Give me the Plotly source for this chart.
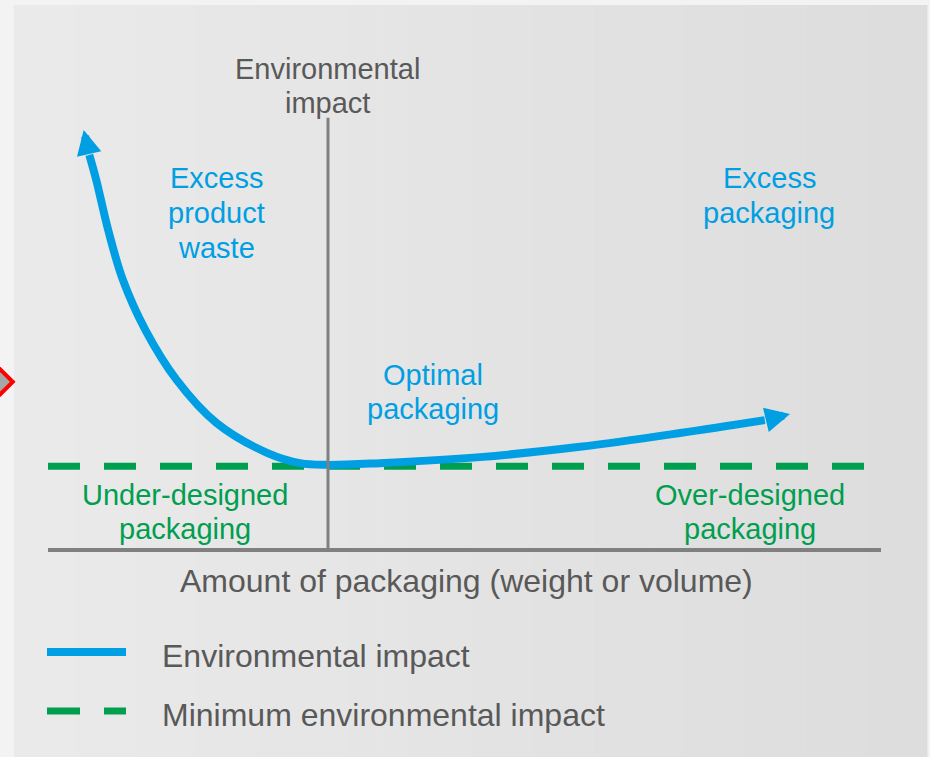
import plotly.graph_objects as go

# ---------------- data (conceptual units) ----------------
# Environmental impact curve: first and last points are the arrow tips
curve_x = [-3.49, -3.41, -3.31, -3.14, -2.93, -2.61, -2.16, -1.59, -0.87, -0.40, -0.01, 0.74, 2.17, 3.60, 5.03, 6.24, 6.60]
curve_y = [9.77, 9.19, 8.60, 7.44, 6.28, 5.12, 3.95, 2.95, 2.26, 2.02, 1.98, 2.02, 2.16, 2.40, 2.72, 3.02, 3.16]

# Minimum environmental impact level and its extent
min_level = 1.95
min_x = [-4.0, 7.66]

# Axes extents
x_axis_extent = [-4.0, 7.9]
y_axis_extent = [0.0, 10.05]

# slide artefact marker (red diamond at the left edge)
artefact_x = [-4.68]
artefact_y = [3.91]

# Texts
y_axis_title = ["Environmental", "impact"]
x_axis_title = "Amount of packaging (weight or volume)"
label_waste = ["Excess", "product", "waste"]
label_excess = ["Excess", "packaging"]
label_optimal = ["Optimal", "packaging"]
label_under = ["Under-designed", "packaging"]
label_over = ["Over-designed", "packaging"]
legend_labels = ["Environmental impact", "Minimum environmental impact"]

# ---------------- styling ----------------
W, H = 930, 757
BLUE = "#009fe3"
GREEN = "#009e4f"
AXIS = "#808080"
TEXT = "#595959"
FONT = "Liberation Sans, Arial, sans-serif"

# pixel mapping of the data space (plot area covers the whole figure)
X0_PX, XS = 328, 70.0
Y0_PX, YS = 550, 43.0
x_range = [(0 - X0_PX) / XS, (W - X0_PX) / XS]
y_range = [(Y0_PX - H) / YS, Y0_PX / YS]


def px(x):
    return x / W


def py(y):
    return 1 - y / H


fig = go.Figure()

# minimum impact dashed line
fig.add_trace(go.Scatter(
    x=min_x, y=[min_level, min_level], mode="lines",
    line=dict(color=GREEN, width=7, dash="32px,24px"),
    hoverinfo="skip",
))

# curve body (without the arrow tips)
fig.add_trace(go.Scatter(
    x=curve_x[1:-1], y=curve_y[1:-1], mode="lines",
    line=dict(color=BLUE, width=8, shape="spline", smoothing=1.0),
    hoverinfo="skip",
))

fig.add_trace(go.Scatter(
    x=artefact_x, y=artefact_y, mode="markers", cliponaxis=False,
    marker=dict(symbol="diamond", size=19, color="#a6a6a6",
                line=dict(color="#ff0000", width=4)),
    hoverinfo="skip",
))

shapes = []
# background panel with a subtle horizontal gradient
n = 30
left, right = 14, 927
for i in range(n):
    c = round(234 - (234 - 221) * i / (n - 1))
    x0 = left + (right - left) * i / n
    x1 = left + (right - left) * (i + 1) / n + 0.5
    shapes.append(dict(type="rect", xref="paper", yref="paper",
                       x0=px(x0), x1=px(x1), y0=py(H), y1=py(5),
                       fillcolor=f"rgb({c},{c},{c})", line=dict(width=0),
                       layer="below"))

# axis lines
shapes.append(dict(type="line", xref="x", yref="y",
                   x0=x_axis_extent[0], x1=x_axis_extent[1], y0=0, y1=0,
                   line=dict(color=AXIS, width=4), layer="above"))
shapes.append(dict(type="line", xref="x", yref="y",
                   x0=0, x1=0, y0=y_axis_extent[0], y1=y_axis_extent[1],
                   line=dict(color=AXIS, width=3), layer="above"))

# legend samples
shapes.append(dict(type="line", xref="paper", yref="paper",
                   x0=px(47), x1=px(126), y0=py(652), y1=py(652),
                   line=dict(color=BLUE, width=8)))
for a, b in [(47, 80), (104, 126)]:
    shapes.append(dict(type="line", xref="paper", yref="paper",
                       x0=px(a), x1=px(b), y0=py(711), y1=py(711),
                       line=dict(color=GREEN, width=7)))

annotations = []

# arrow heads
for tip, tail in [(0, 1), (-1, -2)]:
    annotations.append(dict(
        x=curve_x[tip], y=curve_y[tip], ax=curve_x[tail], ay=curve_y[tail],
        xref="x", yref="y", axref="x", ayref="y", text="",
        showarrow=True, arrowhead=2, arrowsize=0.62, arrowwidth=8,
        arrowcolor=BLUE, standoff=0, startstandoff=0,
    ))


def add_lines(lines, cx, baselines, color, size, xanchor="center"):
    for t, b in zip(lines, baselines):
        annotations.append(dict(
            x=px(cx), y=py(b - 0.35 * size), xref="paper", yref="paper",
            text=t, showarrow=False, xanchor=xanchor, yanchor="middle",
            font=dict(family=FONT, size=size, color=color),
        ))


add_lines(y_axis_title, 327, [79, 113], TEXT, 29)
add_lines(label_waste, 216, [188, 223, 258], BLUE, 29)
add_lines(label_excess, 769, [188, 223], BLUE, 29)
add_lines(label_optimal, 433, [385, 419], BLUE, 29)
add_lines(label_under, 185, [505, 539], GREEN, 29)
add_lines(label_over, 750, [505, 539], GREEN, 29)
add_lines([x_axis_title], 466, [592], TEXT, 32)
add_lines([legend_labels[0]], 160, [667], TEXT, 32, xanchor="left")
add_lines([legend_labels[1]], 160, [726], TEXT, 32, xanchor="left")

fig.update_layout(
    width=W, height=H,
    margin=dict(l=0, r=0, t=0, b=0),
    paper_bgcolor="#f3f3f3", plot_bgcolor="rgba(0,0,0,0)",
    showlegend=False,
    xaxis=dict(visible=False, range=x_range, fixedrange=True),
    yaxis=dict(visible=False, range=y_range, fixedrange=True),
    shapes=shapes, annotations=annotations,
)

fig.write_html(
    "out.html",
    config={"displayModeBar": False},
    post_script="document.body.style.margin='0';document.body.style.overflow='hidden';",
)
